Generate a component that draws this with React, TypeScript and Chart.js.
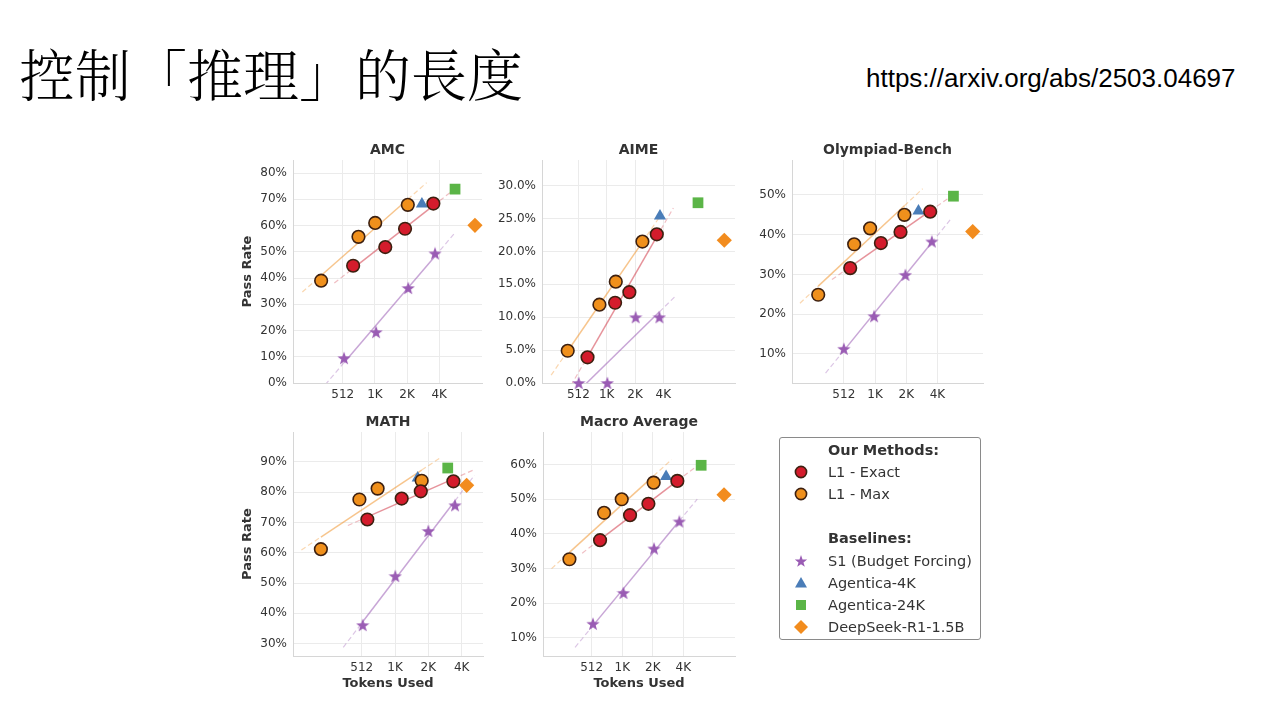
import React, { useEffect, useRef } from "react";
import { Chart, registerables } from "chart.js";
Chart.register(...registerables);

// ---------- data ----------
const xTickTokens = [512, 1024, 2048, 4096];
const xTickLabels = ["512", "1K", "2K", "4K"];

const methodLabels = ["L1 - Exact", "L1 - Max"];
const baselineLabels = ["S1 (Budget Forcing)", "Agentica-4K", "Agentica-24K", "DeepSeek-R1-1.5B"];

// AMC
const amcYTicks = [0, 10, 20, 30, 40, 50, 60, 70, 80];
const amcExactTokens = [640, 1280, 1960, 3610];
const amcExactPass = [44.7, 51.8, 58.8, 68.4];
const amcMaxTokens = [321, 718, 1030, 2080];
const amcMaxPass = [39.0, 55.7, 61.0, 67.9];
const amcS1Tokens = [526, 1050, 2100, 3740];
const amcS1Pass = [9.5, 19.4, 36.2, 49.4];
const amcBaselineTokens = [2820, 5760, 8850]; // Agentica-4K, Agentica-24K, DeepSeek
const amcBaselinePass = [68.2, 73.9, 60.1];

// AIME
const aimeYTicks = [0, 5, 10, 15, 20, 25, 30];
const aimeExactTokens = [640, 1257, 1782, 3487];
const aimeExactPass = [3.9, 12.2, 13.8, 22.6];
const aimeMaxTokens = [394, 856, 1278, 2452];
const aimeMaxPass = [4.9, 11.9, 15.4, 21.5];
const aimeS1Tokens = [516, 1040, 2080, 3720];
const aimeS1Pass = [0, 0, 10, 10];
const aimeBaselineTokens = [3770, 9560, 18200];
const aimeBaselinePass = [25.4, 27.4, 21.7];

// Olympiad-Bench
const olyYTicks = [10, 20, 30, 40, 50];
const olyExactTokens = [590, 1166, 1803, 3485];
const olyExactPass = [31.6, 37.9, 40.7, 45.8];
const olyMaxTokens = [290, 644, 918, 1966];
const olyMaxPass = [24.9, 37.6, 41.6, 45.0];
const olyS1Tokens = [512, 1003, 2011, 3615];
const olyS1Pass = [11.3, 19.5, 29.9, 38.3];
const olyBaselineTokens = [2686, 5840, 8960];
const olyBaselinePass = [46.0, 49.7, 40.8];

// MATH
const mathYTicks = [30, 40, 50, 60, 70, 80, 90];
const mathExactTokens = [576, 1176, 1750, 3449];
const mathExactPass = [71.0, 77.9, 80.3, 83.6];
const mathMaxTokens = [219, 488, 713, 1783];
const mathMaxPass = [61.2, 77.6, 81.2, 83.8];
const mathS1Tokens = [523, 1030, 2048, 3566];
const mathS1Pass = [36.1, 52.3, 67.2, 75.7];
const mathBaselineTokens = [1641, 3066, 4545];
const mathBaselinePass = [84.7, 88.0, 82.3];

// Macro Average
const macroYTicks = [10, 20, 30, 40, 50, 60];
const macroExactTokens = [619, 1222, 1853, 3573];
const macroExactPass = [38.2, 45.4, 48.7, 55.3];
const macroMaxTokens = [309, 678, 1012, 2088];
const macroMaxPass = [32.7, 46.1, 50.0, 54.8];
const macroS1Tokens = [527, 1052, 2104, 3741];
const macroS1Pass = [14.1, 23.0, 35.8, 43.6];
const macroBaselineTokens = [2768, 6131, 10300];
const macroBaselinePass = [56.6, 59.8, 51.3];

// ---------- styles ----------
const RED = "#d41c2c";
const ORANGE = "#f0901c";
const PURPLE = "#9a5cb4";
const BLUE = "#4a7db8";
const GREEN = "#5bb547";
const DIAMOND = "#f28c1e";
const EDGE = "#3d2010";
const TXT = "#333333";
const FONT = '"DejaVu Sans", sans-serif';

const PAD_L = 60;
const PAD_T = 18;
const PAD_R = 18;
const PAD_B = 44;

type Panel = {
  title: string;
  rect: { l: number; t: number; r: number; b: number };
  titleY: number;
  xMin: number; xMax: number; yMin: number; yMax: number;
  yTicks: number[]; decimals: number;
  yTitle: boolean; xTitle: boolean;
  exact: [number[], number[]];
  max: [number[], number[]];
  s1: [number[], number[]];
  base: [number[], number[]];
};

const panels: Panel[] = [
  { title: "AMC", rect: { l: 293, t: 160, r: 482, b: 383 }, titleY: 149, xMin: 175, xMax: 10300, yMin: 0, yMax: 85, yTicks: amcYTicks, decimals: 0, yTitle: true, xTitle: false,
    exact: [amcExactTokens, amcExactPass], max: [amcMaxTokens, amcMaxPass], s1: [amcS1Tokens, amcS1Pass], base: [amcBaselineTokens, amcBaselinePass] },
  { title: "AIME", rect: { l: 542, t: 160, r: 735, b: 383 }, titleY: 149, xMin: 210, xMax: 23650, yMin: 0, yMax: 33.9, yTicks: aimeYTicks, decimals: 1, yTitle: false, xTitle: false,
    exact: [aimeExactTokens, aimeExactPass], max: [aimeMaxTokens, aimeMaxPass], s1: [aimeS1Tokens, aimeS1Pass], base: [aimeBaselineTokens, aimeBaselinePass] },
  { title: "Olympiad-Bench", rect: { l: 792, t: 160, r: 983, b: 383 }, titleY: 149, xMin: 162, xMax: 11260, yMin: 2.7, yMax: 58.8, yTicks: olyYTicks, decimals: 0, yTitle: false, xTitle: false,
    exact: [olyExactTokens, olyExactPass], max: [olyMaxTokens, olyMaxPass], s1: [olyS1Tokens, olyS1Pass], base: [olyBaselineTokens, olyBaselinePass] },
  { title: "MATH", rect: { l: 293, t: 432, r: 483, b: 656 }, titleY: 421, xMin: 122.6, xMax: 6385, yMin: 25.9, yMax: 99.9, yTicks: mathYTicks, decimals: 0, yTitle: true, xTitle: true,
    exact: [mathExactTokens, mathExactPass], max: [mathMaxTokens, mathMaxPass], s1: [mathS1Tokens, mathS1Pass], base: [mathBaselineTokens, mathBaselinePass] },
  { title: "Macro Average", rect: { l: 543, t: 432, r: 735, b: 656 }, titleY: 421, xMin: 169.7, xMax: 13210, yMin: 4.8, yMax: 69.4, yTicks: macroYTicks, decimals: 0, yTitle: false, xTitle: true,
    exact: [macroExactTokens, macroExactPass], max: [macroMaxTokens, macroMaxPass], s1: [macroS1Tokens, macroS1Pass], base: [macroBaselineTokens, macroBaselinePass] },
];

function makeStar(color: string, size: number) {
  const c = document.createElement("canvas");
  c.width = size;
  c.height = size;
  const ctx = c.getContext("2d")!;
  const cx = size / 2, cy = size / 2 + 0.6, R = size / 2, r = R * 0.4;
  ctx.beginPath();
  for (let i = 0; i < 10; i++) {
    const a = -Math.PI / 2 + (i * Math.PI) / 5;
    const rad = i % 2 === 0 ? R : r;
    ctx.lineTo(cx + rad * Math.cos(a), cy + rad * Math.sin(a));
  }
  ctx.closePath();
  ctx.fillStyle = color;
  ctx.fill();
  return c;
}

function fitLine(tokens: number[], pass: number[]) {
  const lx = tokens.map((t) => Math.log2(t));
  const n = lx.length;
  const mx = lx.reduce((a, b) => a + b, 0) / n;
  const my = pass.reduce((a, b) => a + b, 0) / n;
  let sxy = 0, sxx = 0;
  for (let i = 0; i < n; i++) {
    sxy += (lx[i] - mx) * (pass[i] - my);
    sxx += (lx[i] - mx) * (lx[i] - mx);
  }
  const slope = sxy / sxx;
  const at = (t: number) => my + slope * (Math.log2(t) - mx);
  const lo = Math.min(...tokens), hi = Math.max(...tokens);
  return [lo / 1.5, lo, hi, hi * 1.5].map((t) => ({ x: t, y: at(t) }));
}

function pts(tokens: number[], pass: number[]) {
  return tokens.map((t, i) => ({ x: t, y: pass[i] }));
}

function fitDataset(tokens: number[], pass: number[], solid: string, dash: string) {
  return {
    type: "line" as const,
    data: fitLine(tokens, pass),
    borderColor: solid,
    borderWidth: 1.5,
    pointRadius: 0,
    tension: 0,
    order: 10,
    segment: {
      borderColor: (c: any) => (c.p0DataIndex === 1 ? solid : dash),
      borderDash: (c: any) => (c.p0DataIndex === 1 ? [] : [5, 3]),
      borderWidth: (c: any) => (c.p0DataIndex === 1 ? 1.5 : 1.2),
    },
  };
}

function PanelChart({ p }: { p: Panel }) {
  const ref = useRef<HTMLCanvasElement>(null);
  const { l, t, r, b } = p.rect;
  const w = r - l + PAD_L + PAD_R;
  const h = b - t + PAD_T + PAD_B;
  useEffect(() => {
    const star = makeStar(PURPLE, 14);
    const [bt, bp] = p.base;
    const scatter = (data: any, extra: any) => ({
      type: "scatter" as const,
      data,
      clip: false,
      ...extra,
    });
    const chart = new Chart(ref.current!, {
      type: "scatter",
      data: {
        datasets: [
          scatter(pts(p.exact[0], p.exact[1]), { backgroundColor: RED, borderColor: EDGE, borderWidth: 1.6, pointRadius: 6.3, pointStyle: "circle", order: 1 }),
          scatter(pts(p.max[0], p.max[1]), { backgroundColor: ORANGE, borderColor: EDGE, borderWidth: 1.6, pointRadius: 6.3, pointStyle: "circle", order: 2 }),
          scatter(pts(p.s1[0], p.s1[1]), { pointStyle: star, pointRadius: 7, order: 3 }),
          scatter([{ x: bt[0], y: bp[0] }], { backgroundColor: BLUE, borderColor: BLUE, borderWidth: 0, pointRadius: 7, pointStyle: "triangle", order: 4 }),
          scatter([{ x: bt[1], y: bp[1] }], { backgroundColor: GREEN, borderColor: GREEN, borderWidth: 0, pointRadius: 7.6, pointStyle: "rect", order: 4 }),
          scatter([{ x: bt[2], y: bp[2] }], { backgroundColor: DIAMOND, borderColor: DIAMOND, borderWidth: 0, pointRadius: 7.6, pointStyle: "rectRot", order: 4 }),
          fitDataset(p.max[0], p.max[1], "rgba(240,140,28,0.5)", "rgba(240,140,28,0.35)"),
          fitDataset(p.exact[0], p.exact[1], "rgba(205,40,55,0.5)", "rgba(205,40,55,0.3)"),
          fitDataset(p.s1[0], p.s1[1], "rgba(154,92,180,0.55)", "rgba(154,92,180,0.35)"),
        ] as any,
      },
      options: {
        responsive: false,
        animation: false,
        events: [],
        layout: { padding: { left: 0, top: PAD_T, right: PAD_R, bottom: 0 }, autoPadding: false },
        plugins: { legend: { display: false }, tooltip: { enabled: false }, title: { display: false } },
        scales: {
          x: {
            type: "logarithmic",
            min: p.xMin,
            max: p.xMax,
            afterBuildTicks: (s: any) => {
              s.ticks = xTickTokens.map((v) => ({ value: v }));
            },
            afterFit: (s: any) => {
              s.height = PAD_B;
            },
            ticks: {
              autoSkip: false,
              maxRotation: 0,
              padding: 5,
              color: TXT,
              font: { family: FONT, size: 12 },
              callback: (_v: any, i: number) => xTickLabels[i],
            },
            grid: { color: "#ebebeb", lineWidth: 1, drawTicks: false },
            border: { display: true, color: "#d6d6d6", width: 1 },
            title: {
              display: p.xTitle,
              text: "Tokens Used",
              color: TXT,
              font: { family: FONT, size: 13, weight: "bold" },
              padding: { top: 0, bottom: 9 },
            },
          },
          y: {
            type: "linear",
            min: p.yMin,
            max: p.yMax,
            afterBuildTicks: (s: any) => {
              s.ticks = p.yTicks.map((v) => ({ value: v }));
            },
            afterFit: (s: any) => {
              s.width = PAD_L;
            },
            ticks: {
              padding: 6,
              color: TXT,
              font: { family: FONT, size: 12 },
              callback: (v: any) => Number(v).toFixed(p.decimals) + "%",
            },
            grid: { color: "#ebebeb", lineWidth: 1, drawTicks: false },
            border: { display: true, color: "#d6d6d6", width: 1 },
            title: {
              display: p.yTitle,
              text: "Pass Rate",
              color: TXT,
              font: { family: FONT, size: 13, weight: "bold" },
              padding: { top: 7, bottom: 0 },
            },
          },
        },
      } as any,
    });
    return () => chart.destroy();
  }, []);
  return (
    <>
      <canvas
        ref={ref}
        width={w}
        height={h}
        style={{ position: "absolute", left: l - PAD_L, top: t - PAD_T, width: w, height: h }}
      />
      <div
        style={{
          position: "absolute",
          left: l,
          width: r - l,
          top: p.titleY - 10,
          height: 20,
          lineHeight: "20px",
          textAlign: "center",
          fontFamily: FONT,
          fontWeight: "bold",
          fontSize: 14,
          color: TXT,
          whiteSpace: "nowrap",
        }}
      >
        {p.title}
      </div>
    </>
  );
}

function Marker({ kind }: { kind: string }) {
  const s = 18;
  let el: any = null;
  if (kind === "exact") el = <circle cx={9} cy={9} r={5.6} fill={RED} stroke={EDGE} strokeWidth={1.6} />;
  else if (kind === "max") el = <circle cx={9} cy={9} r={5.6} fill={ORANGE} stroke={EDGE} strokeWidth={1.6} />;
  else if (kind === "s1") {
    const p: string[] = [];
    for (let i = 0; i < 10; i++) {
      const a = -Math.PI / 2 + (i * Math.PI) / 5;
      const rad = i % 2 === 0 ? 6.5 : 2.6;
      p.push(`${(9 + rad * Math.cos(a)).toFixed(2)},${(9.6 + rad * Math.sin(a)).toFixed(2)}`);
    }
    el = <polygon points={p.join(" ")} fill={PURPLE} />;
  } else if (kind === "tri") el = <polygon points="9,3 15,13.5 3,13.5" fill={BLUE} />;
  else if (kind === "sq") el = <rect x={4} y={4} width={10} height={10} fill={GREEN} />;
  else if (kind === "dia") el = <polygon points="9,2 16,9 9,16 2,9" fill={DIAMOND} />;
  return (
    <svg width={s} height={s} style={{ position: "absolute", left: 12, top: 2 }}>
      {el}
    </svg>
  );
}

function Legend() {
  const rows: { text: string; bold?: boolean; kind?: string }[] = [
    { text: "Our Methods:", bold: true },
    { text: methodLabels[0], kind: "exact" },
    { text: methodLabels[1], kind: "max" },
    { text: "" },
    { text: "Baselines:", bold: true },
    { text: baselineLabels[0], kind: "s1" },
    { text: baselineLabels[1], kind: "tri" },
    { text: baselineLabels[2], kind: "sq" },
    { text: baselineLabels[3], kind: "dia" },
  ];
  return (
    <div
      style={{
        position: "absolute",
        left: 779,
        top: 437,
        width: 200,
        height: 201,
        border: "1px solid #8a8a8a",
        borderRadius: 3,
        background: "#fff",
        boxSizing: "content-box",
      }}
    >
      {rows.map((row, i) => (
        <div
          key={i}
          style={{
            position: "absolute",
            left: 0,
            top: 0.5 + 22.2 * i,
            width: 200,
            height: 22,
            lineHeight: "22px",
          }}
        >
          {row.kind ? <Marker kind={row.kind} /> : null}
          <span
            style={{
              position: "absolute",
              left: 48,
              top: 0,
              fontFamily: FONT,
              fontSize: 14.5,
              fontWeight: row.bold ? "bold" : "normal",
              color: TXT,
              whiteSpace: "nowrap",
            }}
          >
            {row.text}
          </span>
        </div>
      ))}
    </div>
  );
}

export default function App() {
  return (
    <div
      style={{
        position: "absolute",
        left: 0,
        top: 0,
        width: 1264,
        height: 719,
        background: "#ffffff",
        overflow: "hidden",
      }}
    >
      <div
        style={{
          position: "absolute",
          left: 19,
          top: 44,
          fontFamily: '"Noto Serif CJK TC", "Noto Sans CJK TC", serif',
          fontSize: 56,
          lineHeight: "56px",
          fontWeight: 300,
          color: "#000",
          whiteSpace: "nowrap",
        }}
      >
        控制「推理」的長度
      </div>
      <div
        style={{
          position: "absolute",
          left: 866,
          top: 65,
          fontFamily: '"Liberation Sans", Arial, sans-serif',
          fontSize: 26,
          lineHeight: "26px",
          color: "#000",
          whiteSpace: "nowrap",
        }}
      >
        https://arxiv.org/abs/2503.04697
      </div>
      {panels.map((p) => (
        <PanelChart key={p.title} p={p} />
      ))}
      <Legend />
    </div>
  );
}
